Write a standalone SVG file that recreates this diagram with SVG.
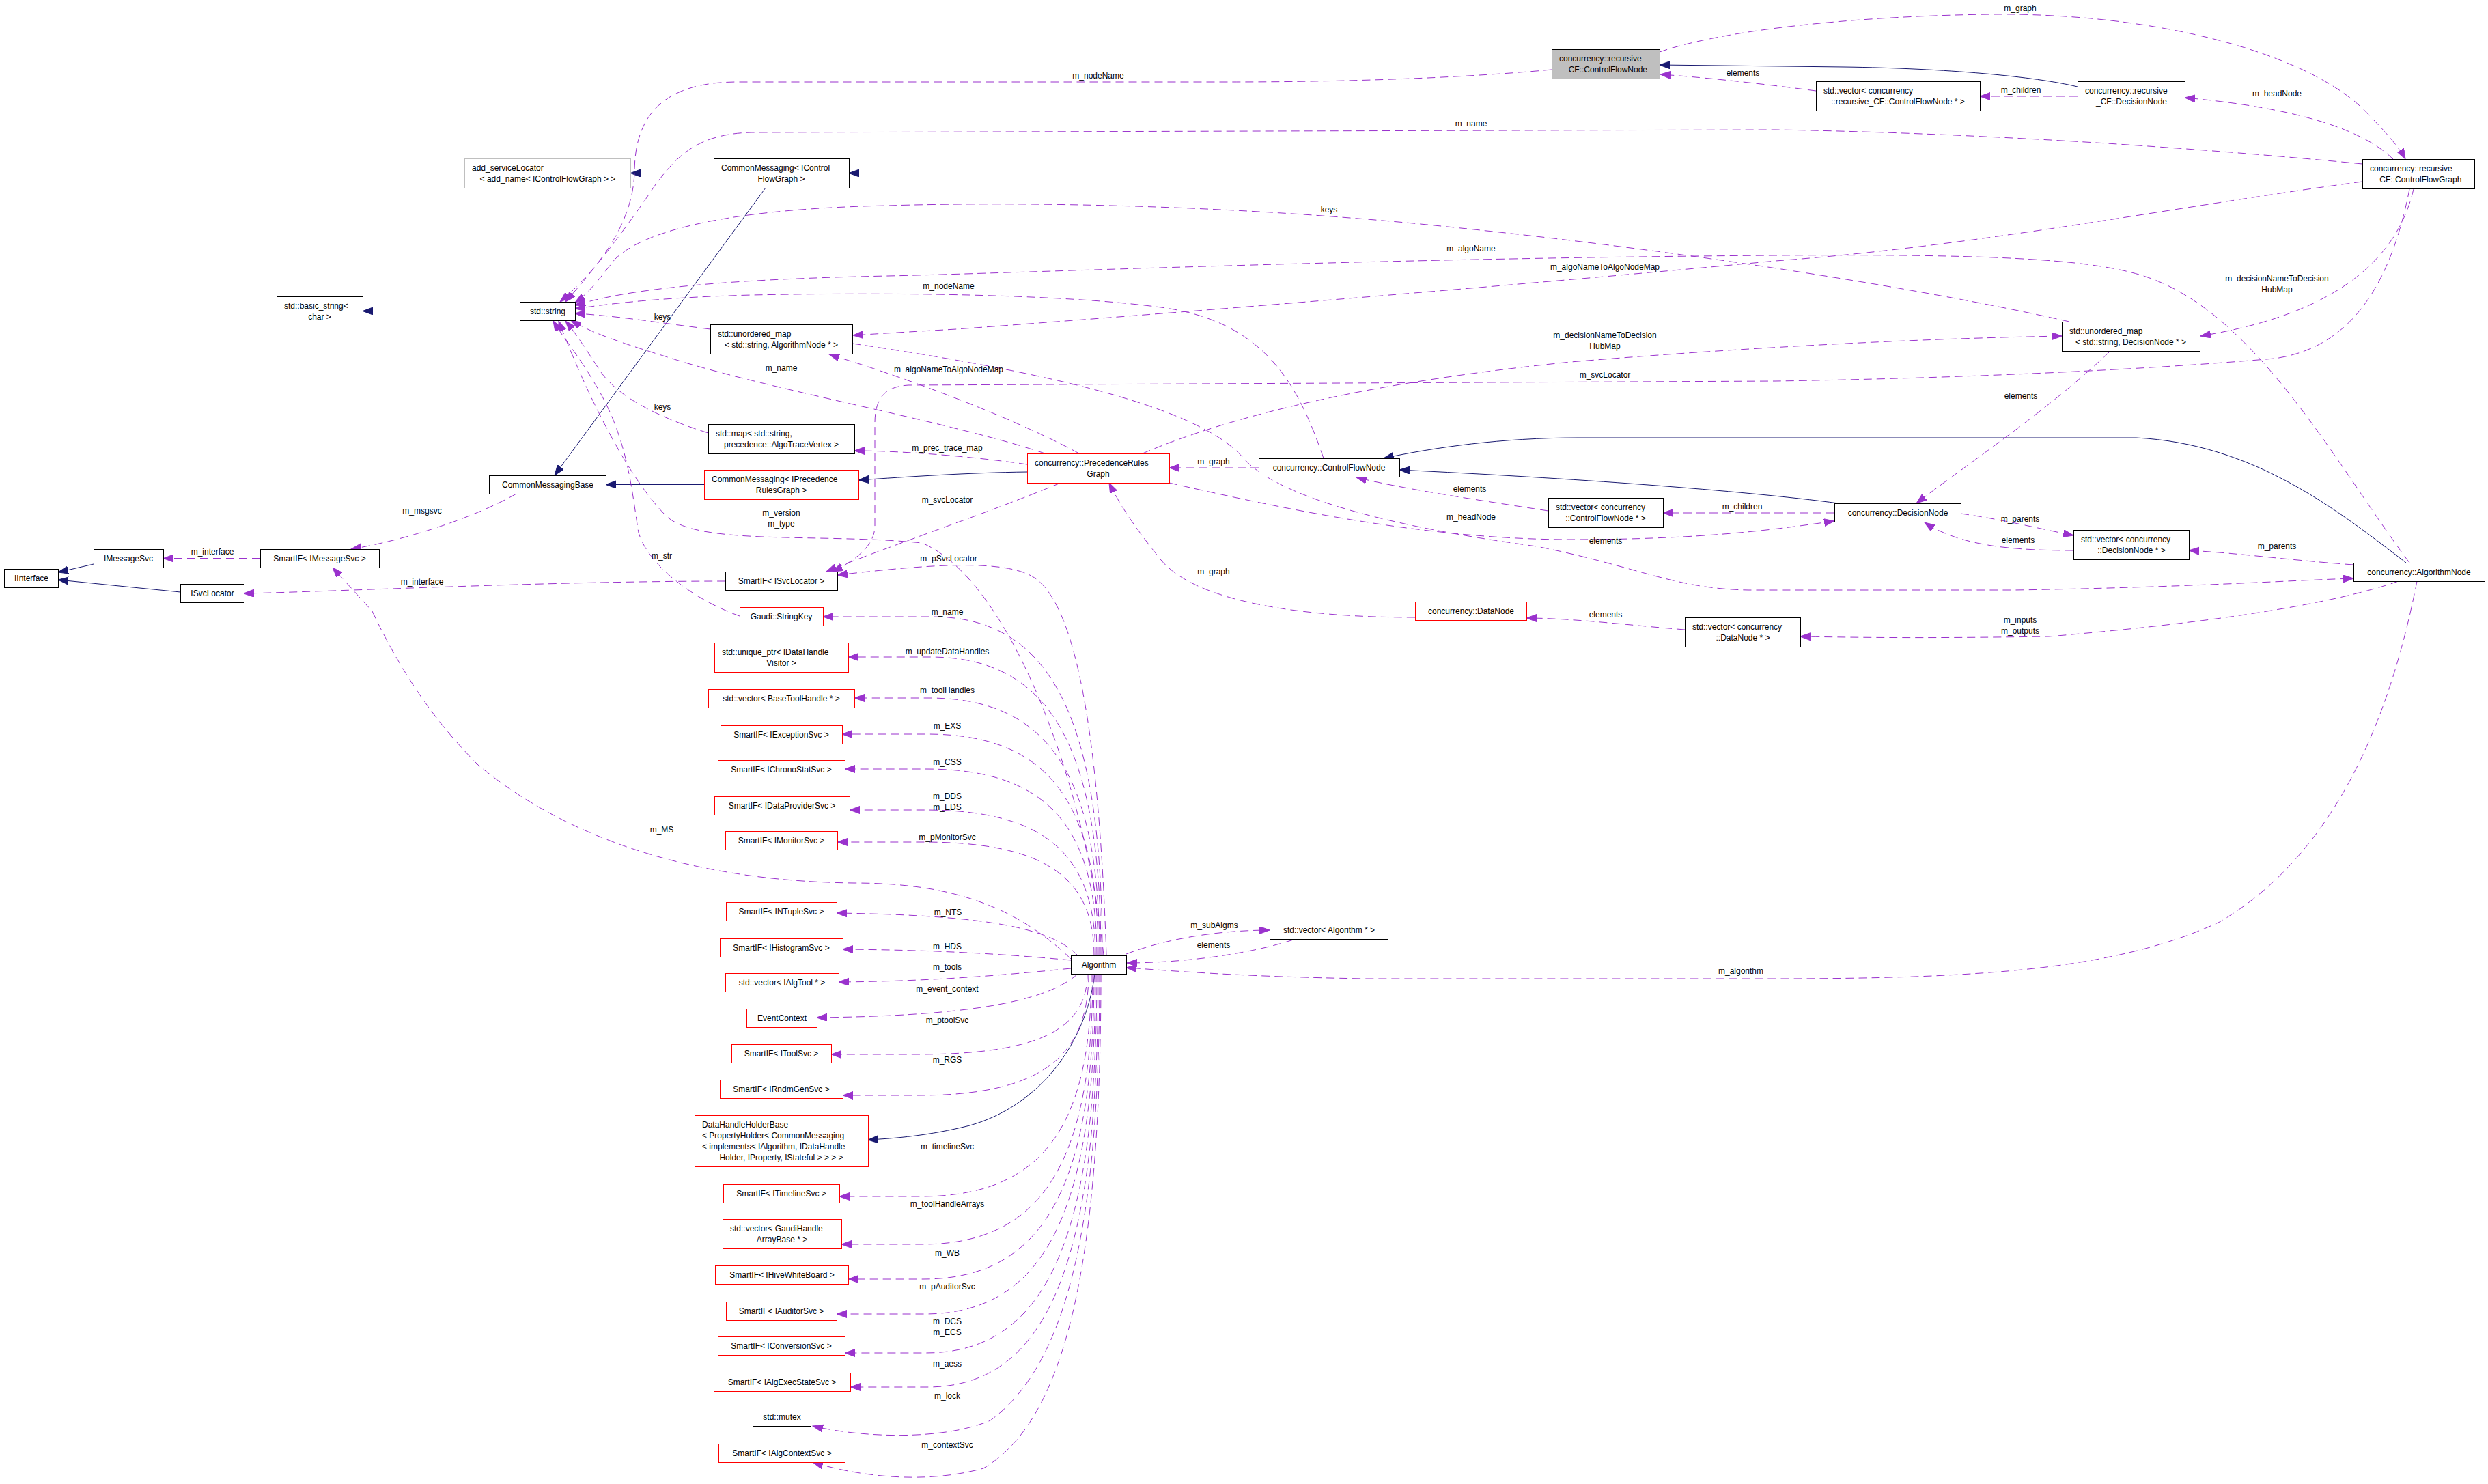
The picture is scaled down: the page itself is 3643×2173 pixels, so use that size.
<svg xmlns="http://www.w3.org/2000/svg" width="3643" height="2173" viewBox="0 0 3643 2173">
<style>
text{font-family:"Liberation Sans",Arial,Helvetica,sans-serif;font-size:12px;fill:#000}
.c{text-anchor:middle}
.l{text-anchor:start}
.n rect{fill:#fff;stroke:#000;stroke-width:1}
.r rect{stroke:#ff0000}
.g rect{stroke:#bfbfbf}
.gf rect{fill:#bfbfbf}
.inh{fill:none;stroke:#191970;stroke-width:1;marker-end:url(#ah)}
.mem{fill:none;stroke:#9a32cd;stroke-width:1;stroke-dasharray:12,7;marker-end:url(#am)}
</style>
<defs>
<marker id="ah" markerUnits="userSpaceOnUse" markerWidth="16" markerHeight="12" viewBox="0 0 16 12" refX="15" refY="5.5" orient="auto"><path d="M0,0 L15,5.5 L0,11 z" fill="#191970" stroke="#191970" stroke-dasharray="none"/></marker>
<marker id="am" markerUnits="userSpaceOnUse" markerWidth="16" markerHeight="12" viewBox="0 0 16 12" refX="15" refY="5.5" orient="auto"><path d="M0,0 L15,5.5 L0,11 z" fill="#9a32cd" stroke="#9a32cd" stroke-dasharray="none"/></marker>
</defs>
<rect x="0" y="0" width="3643" height="2173" fill="#fff"/>

<g id="edges">
<!-- inheritance -->
<path class="inh" d="M1045,253.5 L923,253.5"/>
<path class="inh" d="M1121,275 L812,696"/>
<path class="inh" d="M3459,253.5 L1243,253.5"/>
<path class="inh" d="M761,455.5 L531,455.5"/>
<path class="inh" d="M137,826 L85,838"/>
<path class="inh" d="M264,867 L85,849"/>
<path class="inh" d="M1031,709.5 L887,709.5"/>
<path class="inh" d="M1504,691 C1420,692 1330,698 1257,703"/>
<path class="inh" d="M3042,127 C2980,112 2850,100 2700,98 L2430,95"/>
<path class="inh" d="M2692,737 C2550,718 2300,700 2049,688"/>
<path class="inh" d="M3523,824 C3420,745 3300,650 3128,641 L2310,641 C2200,641 2100,655 2026,671"/>
<path class="inh" d="M1603,1426 C1590,1530 1520,1620 1420,1648 C1360,1663 1310,1667 1271,1669"/>
<!-- members -->
<path class="mem" d="M381,817.5 L239,817.5"/>
<path class="mem" d="M1062,851 C800,851 500,866 357,869"/>
<path class="mem" d="M756,723 C700,755 600,790 514,804"/>
<path class="mem" d="M1568,1404 C1480,1320 1380,1293 1250,1293 C1000,1290 820,1220 700,1120 C640,1060 590,990 545,895 L487,831"/>
<path class="mem" d="M2272,102 C2100,118 1900,120 1800,120 L1080,120 C960,120 930,180 929,250 C928,330 870,400 820,442"/>
<path class="mem" d="M3459,240 C3200,215 2900,195 2600,190 L1100,194 C1020,196 990,230 960,270 C920,330 870,395 828,442"/>
<path class="mem" d="M3030,471 C2850,430 2500,370 2100,330 C1800,300 1500,295 1300,301 C1100,305 950,330 900,380 C880,405 862,430 842,443"/>
<path class="mem" d="M3528,824 C3420,680 3300,450 3132,402 C3050,378 2900,372 2600,374 C2000,378 1500,400 1300,404 C1000,410 900,430 842,447"/>
<path class="mem" d="M1938,671 C1900,560 1850,470 1700,450 C1550,430 1300,428 1100,432 C950,436 880,447 842,452"/>
<path class="mem" d="M1040,482 C960,472 900,462 842,459"/>
<path class="mem" d="M1530,664 C1400,620 1150,575 1000,530 C920,505 870,490 836,469"/>
<path class="mem" d="M1037,634 C960,610 905,580 880,545 C860,515 845,490 828,470"/>
<path class="mem" d="M1616,1399 C1590,1150 1480,850 1350,795 C1200,780 1020,800 975,755 C920,700 860,580 818,470"/>
<path class="mem" d="M1083,902 C1020,880 950,830 935,780 C925,720 920,640 870,560 C850,525 825,495 810,470"/>
<path class="mem" d="M3528,277 C3500,420 3440,510 3330,525 C3100,545 2800,555 2600,558 L1330,564 C1290,566 1281,590 1281,620 L1281,770 C1281,800 1250,822 1219,837"/>
<path class="mem" d="M1553,707 C1450,750 1300,800 1210,837"/>
<path class="mem" d="M1620,1399 C1610,1100 1580,900 1520,850 C1480,815 1350,828 1226,842"/>
<path class="mem" d="M2430,76 C2550,35 2800,20 2950,21 C3200,25 3400,90 3470,170 C3500,200 3515,220 3522,233"/>
<path class="mem" d="M2659,133 C2560,120 2480,112 2431,109"/>
<path class="mem" d="M3042,141 L2899,141"/>
<path class="mem" d="M3504,233 C3450,180 3330,155 3199,143"/>
<path class="mem" d="M3459,266 C3200,300 2900,360 2600,382 C2200,420 1700,460 1400,482 C1330,486 1280,489 1249,491"/>
<path class="mem" d="M3534,277 C3510,380 3420,460 3222,492"/>
<path class="mem" d="M1673,664 C1800,610 2000,560 2300,530 C2600,505 2850,495 3019,492"/>
<path class="mem" d="M3089,515 C3000,600 2880,680 2806,737"/>
<path class="mem" d="M1580,664 C1500,620 1350,560 1214,519"/>
<path class="mem" d="M1504,680 C1400,665 1300,660 1251,660"/>
<path class="mem" d="M1843,685 L1712,685"/>
<path class="mem" d="M2072,904 C1900,904 1750,880 1700,820 C1660,770 1640,740 1624,707"/>
<path class="mem" d="M1712,707 C1900,750 2100,790 2300,790 C2500,790 2600,775 2686,763"/>
<path class="mem" d="M1248,503 C1500,540 1750,590 1820,670 C1880,740 2100,780 2250,800 C2400,830 2450,862 2560,864 L2950,864 C3200,860 3350,850 3446,847"/>
<path class="mem" d="M2686,751 L2435,751"/>
<path class="mem" d="M2267,748 C2150,730 2050,715 1986,699"/>
<path class="mem" d="M2871,752 C2930,760 2990,775 3036,784"/>
<path class="mem" d="M3036,806 C2950,806 2870,800 2818,765"/>
<path class="mem" d="M3446,827 C3350,820 3280,810 3205,806"/>
<path class="mem" d="M3512,851 C3400,890 3200,915 3000,932 C2800,935 2700,933 2636,932"/>
<path class="mem" d="M2467,922 C2380,915 2300,905 2235,905"/>
<path class="mem" d="M3539,851 C3500,1050 3420,1250 3250,1350 C3100,1420 2900,1433 2600,1433 L2000,1433 C1800,1430 1700,1420 1649,1417"/>
<path class="mem" d="M1649,1397 C1720,1370 1800,1362 1859,1362"/>
<path class="mem" d="M1894,1376 C1820,1400 1720,1410 1650,1410"/>
<!-- Algorithm members, upper -->
<path class="mem" d="M1614,1399 C1614,1052 1539,903 1364,903 L1205,903"/>
<path class="mem" d="M1612,1399 C1612,1093 1537,962 1362,962 L1242,962"/>
<path class="mem" d="M1610,1399 C1610,1135 1535,1022 1360,1022 L1251,1022"/>
<path class="mem" d="M1608,1399 C1608,1172 1533,1075 1358,1075 L1233,1075"/>
<path class="mem" d="M1606,1399 C1606,1208 1531,1126 1356,1126 L1237,1126"/>
<path class="mem" d="M1604,1399 C1604,1250 1529,1186 1354,1186 L1244,1186"/>
<path class="mem" d="M1602,1399 C1602,1283 1527,1233 1352,1233 L1226,1233"/>
<path class="mem" d="M1578,1399 C1540,1360 1450,1340 1225,1337"/>
<path class="mem" d="M1568,1406 C1450,1395 1350,1391 1234,1390"/>
<path class="mem" d="M1568,1418 C1450,1430 1350,1437 1228,1438"/>
<!-- Algorithm members, lower -->
<path class="mem" d="M1578,1426 C1530,1470 1400,1488 1196,1490"/>
<path class="mem" d="M1592,1426 C1592,1509 1517,1544 1342,1544 L1217,1544"/>
<path class="mem" d="M1594,1426 C1594,1551 1519,1604 1344,1604 L1234,1604"/>
<path class="mem" d="M1598,1426 C1598,1654 1523,1752 1348,1752 L1229,1752"/>
<path class="mem" d="M1600,1426 C1600,1703 1525,1822 1350,1822 L1232,1822"/>
<path class="mem" d="M1602,1426 C1602,1739 1527,1873 1352,1873 L1242,1873"/>
<path class="mem" d="M1604,1426 C1604,1775 1529,1924 1354,1924 L1225,1924"/>
<path class="mem" d="M1606,1426 C1606,1815 1531,1981 1356,1981 L1237,1981"/>
<path class="mem" d="M1608,1426 C1608,1850 1533,2031 1358,2031 L1245,2031"/>
<path class="mem" d="M1610,1426 C1610,1800 1560,2000 1450,2080 C1380,2110 1260,2105 1190,2088"/>
<path class="mem" d="M1612,1426 C1612,1850 1560,2080 1440,2150 C1350,2175 1250,2160 1190,2141"/>
</g>

<g id="edge-labels">
<text class="c" x="311" y="812">m_interface</text>
<text class="c" x="618" y="856">m_interface</text>
<text class="c" x="618" y="752">m_msgsvc</text>
<text class="c" x="969" y="1219">m_MS</text>
<text class="c" x="1608" y="115">m_nodeName</text>
<text class="c" x="2154" y="185">m_name</text>
<text class="c" x="1946" y="311">keys</text>
<text class="c" x="2154" y="368">m_algoName</text>
<text class="c" x="2350" y="395">m_algoNameToAlgoNodeMap</text>
<text class="c" x="1389" y="423">m_nodeName</text>
<text class="c" x="970" y="468">keys</text>
<text class="c" x="2350" y="495">m_decisionNameToDecision</text>
<text class="c" x="2350" y="511">HubMap</text>
<text class="c" x="1144" y="543">m_name</text>
<text class="c" x="1389" y="545">m_algoNameToAlgoNodeMap</text>
<text class="c" x="2350" y="553">m_svcLocator</text>
<text class="c" x="970" y="600">keys</text>
<text class="c" x="1387" y="660">m_prec_trace_map</text>
<text class="c" x="1777" y="680">m_graph</text>
<text class="c" x="1387" y="736">m_svcLocator</text>
<text class="c" x="1144" y="755">m_version</text>
<text class="c" x="1144" y="771">m_type</text>
<text class="c" x="2154" y="761">m_headNode</text>
<text class="c" x="969" y="818">m_str</text>
<text class="c" x="1389" y="822">m_pSvcLocator</text>
<text class="c" x="1777" y="841">m_graph</text>
<text class="c" x="2152" y="720">elements</text>
<text class="c" x="2551" y="746">m_children</text>
<text class="c" x="2351" y="796">elements</text>
<text class="c" x="2958" y="764">m_parents</text>
<text class="c" x="2955" y="795">elements</text>
<text class="c" x="3334" y="804">m_parents</text>
<text class="c" x="2351" y="904">elements</text>
<text class="c" x="2958" y="912">m_inputs</text>
<text class="c" x="2958" y="928">m_outputs</text>
<text class="c" x="2549" y="1426">m_algorithm</text>
<text class="c" x="1778" y="1359">m_subAlgms</text>
<text class="c" x="1777" y="1388">elements</text>
<text class="c" x="2958" y="16">m_graph</text>
<text class="c" x="2552" y="111">elements</text>
<text class="c" x="2959" y="136">m_children</text>
<text class="c" x="3334" y="141">m_headNode</text>
<text class="c" x="3334" y="412">m_decisionNameToDecision</text>
<text class="c" x="3334" y="428">HubMap</text>
<text class="c" x="2959" y="584">elements</text>
<text class="c" x="1387" y="900">m_name</text>
<text class="c" x="1387" y="958">m_updateDataHandles</text>
<text class="c" x="1387" y="1015">m_toolHandles</text>
<text class="c" x="1387" y="1067">m_EXS</text>
<text class="c" x="1387" y="1120">m_CSS</text>
<text class="c" x="1387" y="1170">m_DDS</text>
<text class="c" x="1387" y="1186">m_EDS</text>
<text class="c" x="1387" y="1230">m_pMonitorSvc</text>
<text class="c" x="1388" y="1340">m_NTS</text>
<text class="c" x="1387" y="1390">m_HDS</text>
<text class="c" x="1387" y="1420">m_tools</text>
<text class="c" x="1387" y="1452">m_event_context</text>
<text class="c" x="1387" y="1498">m_ptoolSvc</text>
<text class="c" x="1387" y="1556">m_RGS</text>
<text class="c" x="1387" y="1683">m_timelineSvc</text>
<text class="c" x="1387" y="1767">m_toolHandleArrays</text>
<text class="c" x="1387" y="1839">m_WB</text>
<text class="c" x="1387" y="1888">m_pAuditorSvc</text>
<text class="c" x="1387" y="1939">m_DCS</text>
<text class="c" x="1387" y="1955">m_ECS</text>
<text class="c" x="1387" y="2001">m_aess</text>
<text class="c" x="1387" y="2048">m_lock</text>
<text class="c" x="1387" y="2120">m_contextSvc</text>
</g>

<g id="n_rcfn" class="n gf"><rect x="2272.5" y="72.5" width="158" height="43"/><text class="l" x="2283" y="90">concurrency::recursive</text><text class="c" x="2351" y="106">_CF::ControlFlowNode</text></g>
<g id="n_vec_rcfn" class="n"><rect x="2659.5" y="119.5" width="240" height="43"/><text class="l" x="2670" y="137">std::vector&lt; concurrency</text><text class="c" x="2779" y="153">::recursive_CF::ControlFlowNode * &gt;</text></g>
<g id="n_rdec" class="n"><rect x="3042.5" y="119.5" width="157" height="43"/><text class="l" x="3053" y="137">concurrency::recursive</text><text class="c" x="3121" y="153">_CF::DecisionNode</text></g>
<g id="n_cfg" class="n"><rect x="3459.5" y="233.5" width="164" height="43"/><text class="l" x="3470" y="251">concurrency::recursive</text><text class="c" x="3541" y="267">_CF::ControlFlowGraph</text></g>
<g id="n_add" class="n g"><rect x="680.5" y="232.5" width="243" height="43"/><text class="l" x="691" y="250">add_serviceLocator</text><text class="c" x="802" y="266">&lt; add_name&lt; IControlFlowGraph &gt; &gt;</text></g>
<g id="n_cmcfg" class="n"><rect x="1045.5" y="232.5" width="198" height="43"/><text class="l" x="1056" y="250">CommonMessaging&lt; IControl</text><text class="c" x="1144" y="266">FlowGraph &gt;</text></g>
<g id="n_bstr" class="n"><rect x="405.5" y="434.5" width="126" height="43"/><text class="l" x="416" y="452">std::basic_string&lt;</text><text class="c" x="468" y="468">char &gt;</text></g>
<g id="n_str" class="n"><rect x="761.5" y="442.5" width="81" height="27"/><text class="c" x="802" y="460">std::string</text></g>
<g id="n_umap_alg" class="n"><rect x="1040.5" y="475.5" width="208" height="43"/><text class="l" x="1051" y="493">std::unordered_map</text><text class="c" x="1144" y="509">&lt; std::string, AlgorithmNode * &gt;</text></g>
<g id="n_umap_dec" class="n"><rect x="3019.5" y="471.5" width="202" height="43"/><text class="l" x="3030" y="489">std::unordered_map</text><text class="c" x="3120" y="505">&lt; std::string, DecisionNode * &gt;</text></g>
<g id="n_map" class="n"><rect x="1037.5" y="621.5" width="214" height="43"/><text class="l" x="1048" y="639">std::map&lt; std::string,</text><text class="c" x="1144" y="655">precedence::AlgoTraceVertex &gt;</text></g>
<g id="n_cmprg" class="n r"><rect x="1031.5" y="688.5" width="226" height="43"/><text class="l" x="1042" y="706">CommonMessaging&lt; IPrecedence</text><text class="c" x="1144" y="722">RulesGraph &gt;</text></g>
<g id="n_cmb" class="n"><rect x="716.5" y="696.5" width="171" height="27"/><text class="c" x="802" y="714">CommonMessagingBase</text></g>
<g id="n_prg" class="n r"><rect x="1504.5" y="664.5" width="208" height="43"/><text class="l" x="1515" y="682">concurrency::PrecedenceRules</text><text class="c" x="1608" y="698">Graph</text></g>
<g id="n_cfn" class="n"><rect x="1843.5" y="671.5" width="206" height="27"/><text class="c" x="1946" y="689">concurrency::ControlFlowNode</text></g>
<g id="n_vec_cfn" class="n"><rect x="2267.5" y="729.5" width="168" height="43"/><text class="l" x="2278" y="747">std::vector&lt; concurrency</text><text class="c" x="2351" y="763">::ControlFlowNode * &gt;</text></g>
<g id="n_dec" class="n"><rect x="2686.5" y="737.5" width="185" height="27"/><text class="c" x="2779" y="755">concurrency::DecisionNode</text></g>
<g id="n_vec_dec" class="n"><rect x="3036.5" y="776.5" width="169" height="43"/><text class="l" x="3047" y="794">std::vector&lt; concurrency</text><text class="c" x="3121" y="810">::DecisionNode * &gt;</text></g>
<g id="n_algnode" class="n"><rect x="3446.5" y="824.5" width="192" height="27"/><text class="c" x="3542" y="842">concurrency::AlgorithmNode</text></g>
<g id="n_datanode" class="n r"><rect x="2072.5" y="881.5" width="163" height="27"/><text class="c" x="2154" y="899">concurrency::DataNode</text></g>
<g id="n_vec_data" class="n"><rect x="2467.5" y="904.5" width="169" height="43"/><text class="l" x="2478" y="922">std::vector&lt; concurrency</text><text class="c" x="2552" y="938">::DataNode * &gt;</text></g>
<g id="n_iface" class="n"><rect x="6.5" y="833.5" width="79" height="27"/><text class="c" x="46" y="851">IInterface</text></g>
<g id="n_imsg" class="n"><rect x="137.5" y="804.5" width="102" height="27"/><text class="c" x="188" y="822">IMessageSvc</text></g>
<g id="n_isvc" class="n"><rect x="264.5" y="855.5" width="93" height="27"/><text class="c" x="311" y="873">ISvcLocator</text></g>
<g id="n_smsg" class="n"><rect x="381.5" y="804.5" width="174" height="27"/><text class="c" x="468" y="822">SmartIF&lt; IMessageSvc &gt;</text></g>
<g id="n_ssvc" class="n"><rect x="1062.5" y="837.5" width="164" height="27"/><text class="c" x="1144" y="855">SmartIF&lt; ISvcLocator &gt;</text></g>
<g id="n_skey" class="n r"><rect x="1083.5" y="889.5" width="122" height="27"/><text class="c" x="1144" y="907">Gaudi::StringKey</text></g>
<g id="n_uptr" class="n r"><rect x="1046.5" y="941.5" width="196" height="43"/><text class="l" x="1057" y="959">std::unique_ptr&lt; IDataHandle</text><text class="c" x="1144" y="975">Visitor &gt;</text></g>
<g id="n_vbth" class="n r"><rect x="1037.5" y="1009.5" width="214" height="27"/><text class="c" x="1144" y="1027">std::vector&lt; BaseToolHandle * &gt;</text></g>
<g id="n_exs" class="n r"><rect x="1055.5" y="1062.5" width="178" height="27"/><text class="c" x="1144" y="1080">SmartIF&lt; IExceptionSvc &gt;</text></g>
<g id="n_css" class="n r"><rect x="1051.5" y="1113.5" width="186" height="27"/><text class="c" x="1144" y="1131">SmartIF&lt; IChronoStatSvc &gt;</text></g>
<g id="n_dds" class="n r"><rect x="1046.5" y="1166.5" width="198" height="27"/><text class="c" x="1145" y="1184">SmartIF&lt; IDataProviderSvc &gt;</text></g>
<g id="n_mon" class="n r"><rect x="1062.5" y="1217.5" width="164" height="27"/><text class="c" x="1144" y="1235">SmartIF&lt; IMonitorSvc &gt;</text></g>
<g id="n_nts" class="n r"><rect x="1063.5" y="1321.5" width="162" height="27"/><text class="c" x="1144" y="1339">SmartIF&lt; INTupleSvc &gt;</text></g>
<g id="n_hds" class="n r"><rect x="1054.5" y="1374.5" width="180" height="27"/><text class="c" x="1144" y="1392">SmartIF&lt; IHistogramSvc &gt;</text></g>
<g id="n_vtool" class="n r"><rect x="1062.5" y="1425.5" width="166" height="27"/><text class="c" x="1145" y="1443">std::vector&lt; IAlgTool * &gt;</text></g>
<g id="n_evt" class="n r"><rect x="1093.5" y="1477.5" width="103" height="27"/><text class="c" x="1145" y="1495">EventContext</text></g>
<g id="n_tsvc" class="n r"><rect x="1071.5" y="1529.5" width="146" height="27"/><text class="c" x="1144" y="1547">SmartIF&lt; IToolSvc &gt;</text></g>
<g id="n_rgs" class="n r"><rect x="1054.5" y="1581.5" width="180" height="27"/><text class="c" x="1144" y="1599">SmartIF&lt; IRndmGenSvc &gt;</text></g>
<g id="n_dhhb" class="n r"><rect x="1017.5" y="1633.5" width="254" height="75"/><text class="l" x="1028" y="1651">DataHandleHolderBase</text><text class="l" x="1028" y="1667">&lt; PropertyHolder&lt; CommonMessaging</text><text class="l" x="1028" y="1683">&lt; implements&lt; IAlgorithm, IDataHandle</text><text class="c" x="1144" y="1699">Holder, IProperty, IStateful &gt; &gt; &gt; &gt;</text></g>
<g id="n_tl" class="n r"><rect x="1059.5" y="1734.5" width="170" height="27"/><text class="c" x="1144" y="1752">SmartIF&lt; ITimelineSvc &gt;</text></g>
<g id="n_vgh" class="n r"><rect x="1058.5" y="1785.5" width="174" height="43"/><text class="l" x="1069" y="1803">std::vector&lt; GaudiHandle</text><text class="c" x="1145" y="1819">ArrayBase * &gt;</text></g>
<g id="n_wb" class="n r"><rect x="1047.5" y="1853.5" width="195" height="27"/><text class="c" x="1145" y="1871">SmartIF&lt; IHiveWhiteBoard &gt;</text></g>
<g id="n_aud" class="n r"><rect x="1063.5" y="1906.5" width="162" height="27"/><text class="c" x="1144" y="1924">SmartIF&lt; IAuditorSvc &gt;</text></g>
<g id="n_conv" class="n r"><rect x="1051.5" y="1957.5" width="186" height="27"/><text class="c" x="1144" y="1975">SmartIF&lt; IConversionSvc &gt;</text></g>
<g id="n_aess" class="n r"><rect x="1045.5" y="2010.5" width="200" height="27"/><text class="c" x="1145" y="2028">SmartIF&lt; IAlgExecStateSvc &gt;</text></g>
<g id="n_mutex" class="n"><rect x="1102.5" y="2061.5" width="85" height="27"/><text class="c" x="1145" y="2079">std::mutex</text></g>
<g id="n_ctx" class="n r"><rect x="1052.5" y="2114.5" width="185" height="27"/><text class="c" x="1145" y="2132">SmartIF&lt; IAlgContextSvc &gt;</text></g>
<g id="n_alg" class="n"><rect x="1568.5" y="1399.5" width="81" height="27"/><text class="c" x="1609" y="1417">Algorithm</text></g>
<g id="n_valg" class="n"><rect x="1859.5" y="1348.5" width="173" height="27"/><text class="c" x="1946" y="1366">std::vector&lt; Algorithm * &gt;</text></g>
</svg>
